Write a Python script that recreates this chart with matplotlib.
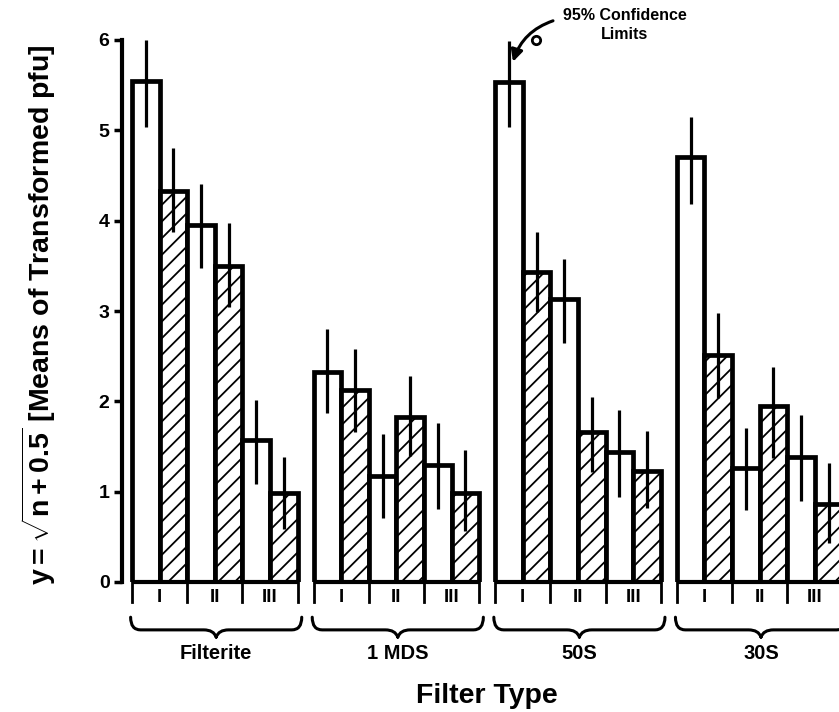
import matplotlib
matplotlib.use("Agg")
import matplotlib.pyplot as plt
from matplotlib.path import Path
from matplotlib.patches import PathPatch
import numpy as np

# ---------------- data ----------------
groups = ["Filterite", "1 MDS", "50S", "30S"]
pairs = ["I", "II", "III"]
means = {
    "Filterite": [5.55, 4.33, 3.95, 3.50, 1.57, 0.99],
    "1 MDS":     [2.33, 2.13, 1.17, 1.83, 1.30, 0.98],
    "50S":       [5.53, 3.43, 3.13, 1.66, 1.44, 1.23],
    "30S":       [4.70, 2.51, 1.26, 1.95, 1.38, 0.86],
}
upper = {
    "Filterite": [6.00, 4.80, 4.41, 3.97, 2.01, 1.38],
    "1 MDS":     [2.80, 2.58, 1.64, 2.28, 1.76, 1.46],
    "50S":       [5.99, 3.88, 3.58, 2.05, 1.90, 1.67],
    "30S":       [5.15, 2.98, 1.71, 2.38, 1.85, 1.32],
}
lower = {
    "Filterite": [5.04, 3.87, 3.48, 3.04, 1.09, 0.59],
    "1 MDS":     [1.87, 1.66, 0.71, 1.39, 0.81, 0.57],
    "50S":       [5.04, 2.99, 2.65, 1.22, 0.94, 0.82],
    "30S":       [4.18, 2.04, 0.80, 1.37, 0.90, 0.43],
}
yticks = [0, 1, 2, 3, 4, 5, 6]

# ---------------- style ----------------
plt.rcParams["font.family"] = ["Liberation Sans", "DejaVu Sans"]
plt.rcParams["font.weight"] = "bold"
plt.rcParams["mathtext.fontset"] = "custom"
plt.rcParams["mathtext.rm"] = "Liberation Sans:bold"
plt.rcParams["mathtext.it"] = "Liberation Sans:bold"
plt.rcParams["mathtext.bf"] = "Liberation Sans:bold"
plt.rcParams["hatch.linewidth"] = 1.3

W, H = 839, 712
fig = plt.figure(figsize=(W / 100, H / 100), dpi=100)
px_x0, px_y0, px_top = 122, 582, 40
ax = fig.add_axes([px_x0 / W, 1 - px_y0 / H, 1 - px_x0 / W, (px_y0 - px_top) / H])

bar_px = 27.6
group_pitch = 6.58
ax.set_xlim((px_x0 - 132) / bar_px, (W - 132) / bar_px)
ax.set_ylim(0, 6)

for gi, g in enumerate(groups):
    start = gi * group_pitch
    xs = start + np.arange(6)
    for k in range(6):
        ax.bar(xs[k], means[g][k], width=1.0, align="edge", facecolor="white",
               edgecolor="black", linewidth=3.4, hatch="//" if k % 2 else None,
               zorder=2)
    ax.vlines(xs + 0.5, lower[g], upper[g], color="black", linewidth=2.3,
              zorder=3, clip_on=False)
    # baseline and ticks
    ax.plot([start, start + 6], [0, 0], color="black", lw=3, clip_on=False,
            zorder=4, solid_capstyle="butt")
    for t in [0, 2, 4, 6]:
        ax.plot([start + t, start + t], [0, -0.22], color="black", lw=2,
                clip_on=False, zorder=4)
    for pi, p in enumerate(pairs):
        ax.text(start + 1 + 2 * pi, -0.17, p, ha="center", va="center",
                fontsize=13.5, fontweight="bold", clip_on=False)
    # brace
    x0, x1 = start - 0.05, start + 6.15
    xc = (x0 + x1) / 2
    yt, ym, yc = -0.39, -0.53, -0.61
    rx, cw = 0.36, 0.45
    verts = [(x0, yt), (x0, ym), (x0 + rx, ym), (xc - cw, ym), (xc - cw * 0.2, ym),
             (xc, yc),
             (xc, yc), (xc + cw * 0.2, ym), (xc + cw, ym), (x1 - rx, ym), (x1, ym),
             (x1, yt)]
    codes = [Path.MOVETO, Path.CURVE3, Path.CURVE3, Path.LINETO, Path.CURVE3,
             Path.CURVE3,
             Path.MOVETO, Path.CURVE3, Path.CURVE3, Path.LINETO, Path.CURVE3,
             Path.CURVE3]
    ax.add_patch(PathPatch(Path(verts, codes), facecolor="none", edgecolor="black",
                           lw=2.2, clip_on=False, capstyle="round"))
    ax.text(xc, -0.79, g, ha="center", va="center", fontsize=14.5,
            fontweight="bold", clip_on=False)

# axes styling
for s in ["top", "right", "bottom"]:
    ax.spines[s].set_visible(False)
ax.spines["left"].set_linewidth(3)
ax.set_xticks([])
ax.set_yticks(yticks)
ax.set_yticklabels([str(v) for v in yticks])
ax.tick_params(axis="y", direction="out", length=6, width=2.5, labelsize=14, pad=3)
for lab in ax.get_yticklabels():
    lab.set_fontweight("bold")

# annotation
def dx(px):
    return (px - 132) / bar_px

def dy(py):
    return (px_y0 - py) / 90.3

ax.annotate("", xy=(dx(513), dy(62)), xytext=(dx(553), dy(21)),
            arrowprops=dict(arrowstyle="-|>,head_length=0.7,head_width=0.35",
                            connectionstyle="arc3,rad=0.25", color="black",
                            lw=2.2, shrinkA=0, shrinkB=0),
            annotation_clip=False)
ax.plot([dx(536)], [dy(40)], marker="o", ms=6, mfc="white", mec="black", mew=2,
        clip_on=False, zorder=5)
ax.text(dx(625), dy(25.5), "95% Confidence\nLimits", ha="center", va="center",
        fontsize=11.5, fontweight="bold", linespacing=1.35, clip_on=False)

# labels
fig.text(39 / W, 1 - 315 / H, r"y$=\sqrt{\mathrm{n+0.5}}$ [Means of Transformed pfu]",
         rotation=90, ha="center", va="center", fontsize=20.5, fontweight="bold")
fig.text(487 / W, 1 - 696 / H, "Filter Type", ha="center", va="center",
         fontsize=20.5, fontweight="bold")

fig.savefig("out.png", dpi=100)
